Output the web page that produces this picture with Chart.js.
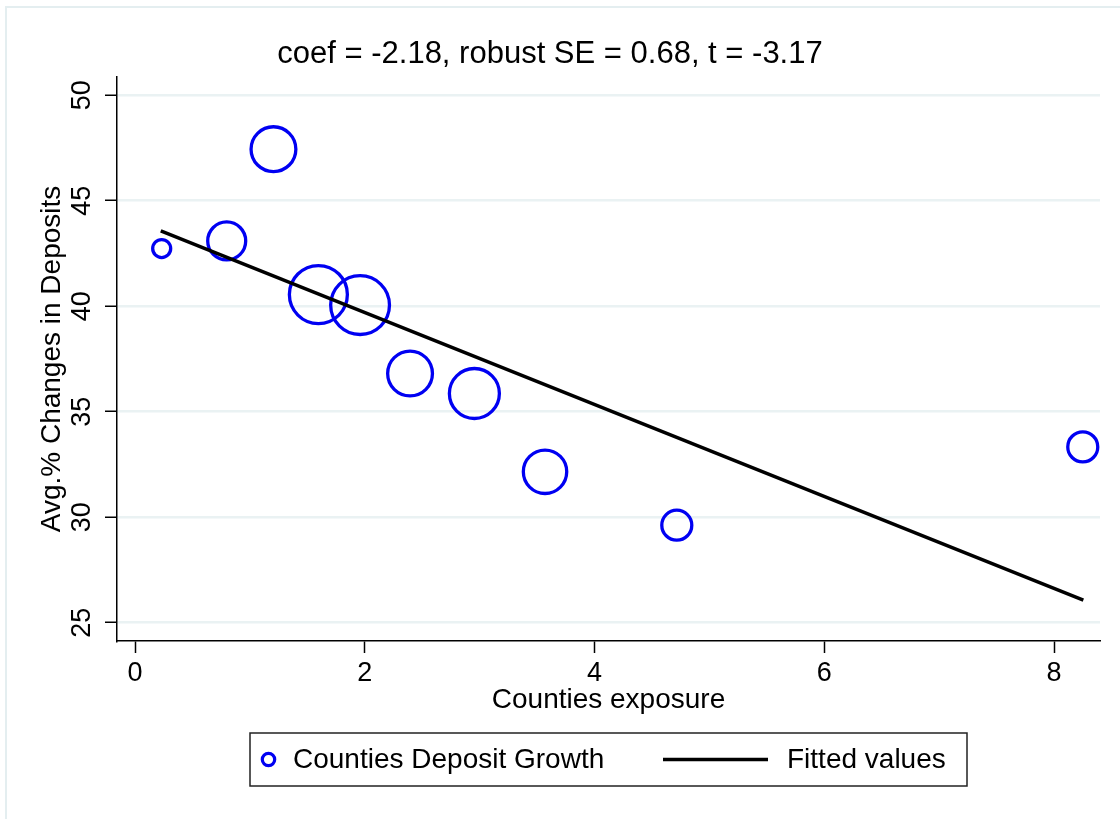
<!DOCTYPE html>
<html>
<head>
<meta charset="utf-8">
<style>
  html, body { margin: 0; padding: 0; background: #ffffff; }
  #wrap { position: relative; width: 1120px; height: 819px; }
</style>
<script src="https://cdn.jsdelivr.net/npm/chart.js@4.4.1/dist/chart.umd.min.js"></script>
</head>
<body>
<div id="wrap"><canvas id="c" width="1120" height="819"></canvas></div>
<script>
// ---- data ----
const exposure      = [0.232, 0.798, 1.205, 1.596, 1.959, 2.394, 2.954, 3.569, 4.716, 8.250];
const depositGrowth = [42.73, 43.09, 47.44, 40.55, 40.05, 36.81, 35.86, 32.15, 29.62, 33.33];
const weights       = [9, 19, 22.4, 29, 29.4, 22.4, 25, 21.7, 15, 15];
const fitX = [0.224, 8.255];
const fitY = [43.57, 26.07];
const xTicks = [0, 2, 4, 6, 8];
const yTicks = [25, 30, 35, 40, 45, 50];
const titleText = 'coef = -2.18, robust SE = 0.68, t = -3.17';
const xTitle = 'Counties exposure';
const yTitle = 'Avg.% Changes in Deposits';
const legendLabels = ['Counties Deposit Growth', 'Fitted values'];

const FONT = '"Liberation Sans", Arial, Helvetica, sans-serif';
const BLUE = '#0000f2';

Chart.defaults.font.family = FONT;
Chart.defaults.font.size = 27;
Chart.defaults.color = '#000';

const bubbleData = exposure.map((x, i) => ({ x: x, y: depositGrowth[i], r: weights[i] }));
const fitData = fitX.map((x, i) => ({ x: x, y: fitY[i] }));

const bgPlugin = {
  id: 'bgFrame',
  beforeDraw(chart) {
    const ctx = chart.ctx;
    ctx.save();
    ctx.fillStyle = '#fff';
    ctx.fillRect(0, 0, chart.width, chart.height);
    ctx.strokeStyle = '#e4eef0';
    ctx.lineWidth = 2;
    ctx.beginPath();
    ctx.moveTo(6, chart.height);
    ctx.lineTo(6, 7);
    ctx.lineTo(chart.width, 7);
    ctx.stroke();
    ctx.restore();
  }
};

const legendPlugin = {
  id: 'boxLegend',
  afterDraw(chart) {
    const ctx = chart.ctx;
    const ca = chart.chartArea;
    const cx = (ca.left + ca.right) / 2;
    const left = cx - 358.5, right = cx + 358.5;
    const top = ca.bottom + 92, bottom = ca.bottom + 145;
    const midY = (top + bottom) / 2;
    ctx.save();
    ctx.strokeStyle = '#222';
    ctx.lineWidth = 1.5;
    ctx.strokeRect(left, top, right - left, bottom - top);
    // marker
    ctx.strokeStyle = BLUE;
    ctx.lineWidth = 3.2;
    ctx.beginPath();
    ctx.arc(left + 18.5, midY, 6.2, 0, Math.PI * 2);
    ctx.stroke();
    ctx.fillStyle = '#000';
    ctx.font = '28px ' + FONT;
    ctx.textBaseline = 'middle';
    ctx.textAlign = 'left';
    ctx.fillText(legendLabels[0], left + 43, midY + 1);
    // line sample
    ctx.strokeStyle = '#000';
    ctx.lineWidth = 3.5;
    ctx.beginPath();
    ctx.moveTo(left + 413, midY);
    ctx.lineTo(left + 518, midY);
    ctx.stroke();
    ctx.fillText(legendLabels[1], left + 537, midY + 1);
    ctx.restore();
  }
};

new Chart(document.getElementById('c'), {
  data: {
    datasets: [
      {
        type: 'line',
        label: legendLabels[1],
        data: fitData,
        borderColor: '#000',
        borderWidth: 3.5,
        pointRadius: 0,
        fill: false,
        order: 0
      },
      {
        type: 'bubble',
        label: legendLabels[0],
        data: bubbleData,
        borderColor: BLUE,
        backgroundColor: 'rgba(0,0,0,0)',
        borderWidth: 3.3,
        order: 1
      }
    ]
  },
  options: {
    responsive: false,
    animation: false,
    events: [],
    layout: { autoPadding: false, padding: { left: 0, right: 20, top: 0, bottom: 88 } },
    plugins: {
      legend: { display: false },
      tooltip: { enabled: false },
      title: {
        display: true,
        text: titleText,
        font: { size: 31, weight: 'normal', family: FONT },
        color: '#000',
        padding: { top: 36, bottom: 3.8 }
      }
    },
    scales: {
      x: {
        type: 'linear',
        position: 'bottom',
        min: -0.157,
        max: 8.40,
        afterBuildTicks(scale) { scale.ticks = xTicks.map(v => ({ value: v })); },
        afterFit(scale) {
          scale.height = 90;
          scale.paddingLeft = 0; scale.paddingRight = 0;
          scale.paddingTop = 0; scale.paddingBottom = 0;
        },
        grid: {
          drawOnChartArea: false,
          drawTicks: true,
          tickLength: 12,
          tickColor: '#000',
          tickWidth: 1.5
        },
        border: { display: true, color: '#000', width: 1.5 },
        ticks: {
          font: { size: 27 },
          color: '#000',
          padding: 4,
          maxRotation: 0,
          autoSkip: false
        },
        title: {
          display: true,
          text: xTitle,
          font: { size: 28 },
          color: '#000',
          padding: { top: 0, bottom: 14 }
        }
      },
      y: {
        type: 'linear',
        position: 'left',
        min: 24.13,
        max: 50.86,
        afterBuildTicks(scale) { scale.ticks = yTicks.map(v => ({ value: v })); },
        afterFit(scale) {
          scale.width = 117;
          scale.paddingLeft = 0; scale.paddingRight = 0;
          scale.paddingTop = 0; scale.paddingBottom = 0;
        },
        grid: {
          drawOnChartArea: true,
          color: '#eaf2f3',
          lineWidth: 2.5,
          drawTicks: true,
          tickLength: 12,
          tickColor: '#000',
          tickWidth: 1.5
        },
        border: { display: true, color: '#000', width: 1.5 },
        ticks: {
          font: { size: 27 },
          color: '#000',
          padding: 7,
          minRotation: 90,
          maxRotation: 90,
          crossAlign: 'center',
          autoSkip: false
        },
        title: {
          display: true,
          text: yTitle,
          font: { size: 28 },
          color: '#000',
          padding: { top: 35, bottom: 0 }
        }
      }
    }
  },
  plugins: [bgPlugin, legendPlugin]
});
</script>
</body>
</html>
